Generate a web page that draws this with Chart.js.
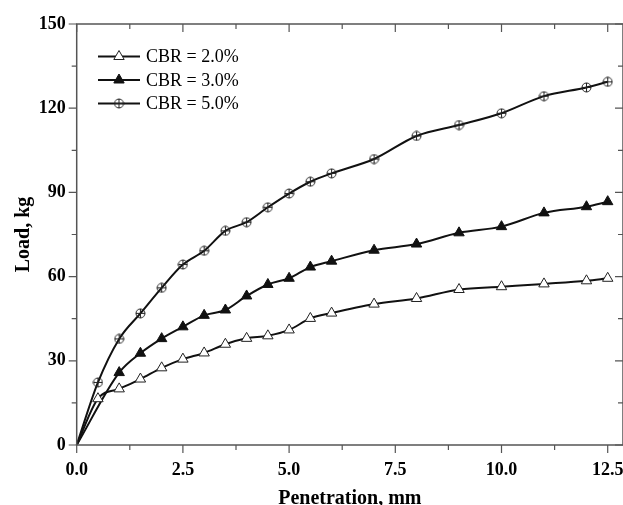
<!DOCTYPE html>
<html>
<head>
<meta charset="utf-8">
<script src="https://cdn.jsdelivr.net/npm/chart.js@4.4.0/dist/chart.umd.min.js"></script>
<style>
  html, body { margin: 0; padding: 0; background: #fff; }
  #wrap { width: 623px; height: 505px; }
</style>
</head>
<body>
<div id="wrap"><canvas id="chartCBR"></canvas></div>
<script>
  /* Penetración (mm) y carga (kg) por ensayo */
  const penetration = [0, 0.5, 1, 1.5, 2, 2.5, 3, 3.5, 4, 4.5, 5, 5.5, 6, 7, 8, 9, 10, 11, 12, 12.5];
  const penetrationCBR3 = [0, 1, 1.5, 2, 2.5, 3, 3.5, 4, 4.5, 5, 5.5, 6, 7, 8, 9, 10, 11, 12, 12.5];

  const loadCBR2 = [0, 16.5, 20, 23.5, 27.5, 30.6, 32.8, 35.9, 38, 38.9, 41, 45.1, 47, 50.2, 52.2, 55.4, 56.4, 57.4, 58.5, 59.4];
  const loadCBR3 = [0, 25.8, 32.7, 37.9, 42.1, 46.2, 48.1, 53.1, 57.2, 59.4, 63.4, 65.5, 69.4, 71.6, 75.6, 77.8, 82.7, 84.9, 86.7];
  const loadCBR5 = [0, 22.3, 37.8, 46.9, 56, 64.3, 69.2, 76.3, 79.4, 84.7, 89.6, 93.8, 96.8, 101.9, 110.1, 114, 118.2, 124.3, 127.4, 129.4];

  const seriesLabels = ['CBR = 2.0%', 'CBR = 3.0%', 'CBR = 5.0%'];
  const yTicks = [0, 30, 60, 90, 120, 150];

  const serif = "'Liberation Serif', 'Times New Roman', serif";

  /* marcador círculo con cruz */
  const circlePlus = document.createElement('canvas');
  circlePlus.width = 11;
  circlePlus.height = 11;
  (() => {
    let c = circlePlus.getContext('2d');
    c.strokeStyle = '#222';
    c.lineWidth = 1;
    c.beginPath();
    c.arc(5.5, 5.5, 4.5, 0, Math.PI * 2);
    c.stroke();
    c.beginPath();
    c.moveTo(5.5, 1);
    c.lineTo(5.5, 10);
    c.moveTo(1, 5.5);
    c.lineTo(10, 5.5);
    c.stroke();
  })();

  const toPoints = (xs, ys) => xs.map((x, i) => ({ x: x, y: ys[i] }));
  const hideOrigin = (n, r) => Array.from({ length: n }, (_, i) => (i === 0 ? 0 : r));

  /* Marco con marcas hacia dentro/fuera */
  const frameTicks = {
    id: 'frameTicks',
    afterDraw(chart) {
      const { ctx, chartArea: a, scales } = chart;
      ctx.save();
      ctx.strokeStyle = '#555';
      ctx.lineWidth = 1.5;
      ctx.strokeRect(a.left, a.top, a.right - a.left, a.bottom - a.top);
      ctx.lineWidth = 1.2;
      ctx.beginPath();
      for (let i = 0; i <= 10; i++) {
        let px = scales.x.getPixelForValue(i * 1.25);
        let len = i % 2 ? 5 : 8;
        ctx.moveTo(px, a.bottom);
        ctx.lineTo(px, a.bottom + len);
        ctx.moveTo(px, a.top);
        ctx.lineTo(px, a.top + len);
      }
      for (let i = 0; i <= 10; i++) {
        let py = scales.y.getPixelForValue(i * 15);
        let len = i % 2 ? 5 : 8;
        ctx.moveTo(a.left, py);
        ctx.lineTo(a.left - len, py);
        ctx.moveTo(a.right, py);
        ctx.lineTo(a.right - len, py);
      }
      ctx.stroke();
      ctx.restore();
    },
  };

  /* Leyenda con línea y marcador */
  const lineLegend = {
    id: 'lineLegend',
    afterDraw(chart) {
      const ctx = chart.ctx;
      const rows = [56.5, 80, 103.5];
      ctx.save();
      chart.data.datasets.forEach((ds, i) => {
        let y = rows[i];
        ctx.strokeStyle = '#111';
        ctx.lineWidth = 2;
        ctx.beginPath();
        ctx.moveTo(98, y);
        ctx.lineTo(140, y);
        ctx.stroke();
        ctx.fillStyle = ds.pointBackgroundColor;
        ctx.strokeStyle = ds.pointBorderColor;
        ctx.lineWidth = ds.pointBorderWidth;
        Chart.helpers.drawPoint(ctx, { pointStyle: ds.pointStyle, radius: 6, borderWidth: ds.pointBorderWidth, rotation: 0 }, 119, y);
        ctx.fillStyle = '#000';
        ctx.font = '18px ' + serif;
        ctx.textBaseline = 'middle';
        ctx.textAlign = 'left';
        ctx.fillText(ds.label, 146, y + 1);
      });
      ctx.restore();
    },
  };

  const ctx = document.getElementById('chartCBR').getContext('2d');
  const chartCBR = new Chart(ctx, {
    type: 'line',
    plugins: [frameTicks, lineLegend],
    data: {
      datasets: [
        {
          label: seriesLabels[0],
          data: toPoints(penetration, loadCBR2),
          borderColor: '#111',
          borderWidth: 2,
          pointStyle: 'triangle',
          pointRadius: hideOrigin(penetration.length, 6),
          pointBackgroundColor: '#fff',
          pointBorderColor: '#222',
          pointBorderWidth: 1,
          cubicInterpolationMode: 'monotone',
        },
        {
          label: seriesLabels[1],
          data: toPoints(penetrationCBR3, loadCBR3),
          borderColor: '#111',
          borderWidth: 2,
          pointStyle: 'triangle',
          pointRadius: hideOrigin(penetrationCBR3.length, 6),
          pointBackgroundColor: '#111',
          pointBorderColor: '#111',
          pointBorderWidth: 1,
          cubicInterpolationMode: 'monotone',
        },
        {
          label: seriesLabels[2],
          data: toPoints(penetration, loadCBR5),
          borderColor: '#111',
          borderWidth: 2,
          pointStyle: circlePlus,
          pointRadius: hideOrigin(penetration.length, 5),
          pointBackgroundColor: '#fff',
          pointBorderColor: '#222',
          pointBorderWidth: 1,
          cubicInterpolationMode: 'monotone',
          clip: false,
        },
      ],
    },
    options: {
      responsive: true,
      maintainAspectRatio: false,
      animation: false,
      layout: { autoPadding: false, padding: { top: 24, right: 0, left: 0, bottom: 0 } },
      scales: {
        x: {
          type: 'linear',
          min: 0,
          max: 12.86,
          afterFit: (scale) => {
            scale.height = 60;
            scale.paddingLeft = 0;
            scale.paddingRight = 0;
          },
          grid: { display: false, drawTicks: false },
          border: { display: false },
          ticks: {
            stepSize: 2.5,
            includeBounds: false,
            autoSkip: false,
            maxRotation: 0,
            padding: 15,
            color: '#000',
            font: { family: serif, size: 18, weight: 'bold' },
            callback: (v) => v.toFixed(1),
          },
          title: {
            display: true,
            text: 'Penetration, mm',
            color: '#000',
            font: { family: serif, size: 20, weight: 'bold' },
            padding: { top: 0, bottom: -6 },
          },
        },
        y: {
          min: 0,
          max: 150,
          afterFit: (scale) => {
            scale.width = 76.7;
            scale.paddingTop = 0;
            scale.paddingBottom = 0;
          },
          afterBuildTicks: (scale) => { scale.ticks = yTicks.map((v) => ({ value: v })); },
          grid: { display: false, drawTicks: false },
          border: { display: false },
          ticks: {
            padding: 11,
            color: '#000',
            font: { family: serif, size: 18, weight: 'bold' },
          },
          title: {
            display: true,
            text: 'Load, kg',
            color: '#000',
            font: { family: serif, size: 20, weight: 'bold' },
            padding: { top: 12, bottom: 0 },
          },
        },
      },
      plugins: {
        legend: { display: false },
        tooltip: { enabled: false },
      },
    },
  });
</script>
</body>
</html>
